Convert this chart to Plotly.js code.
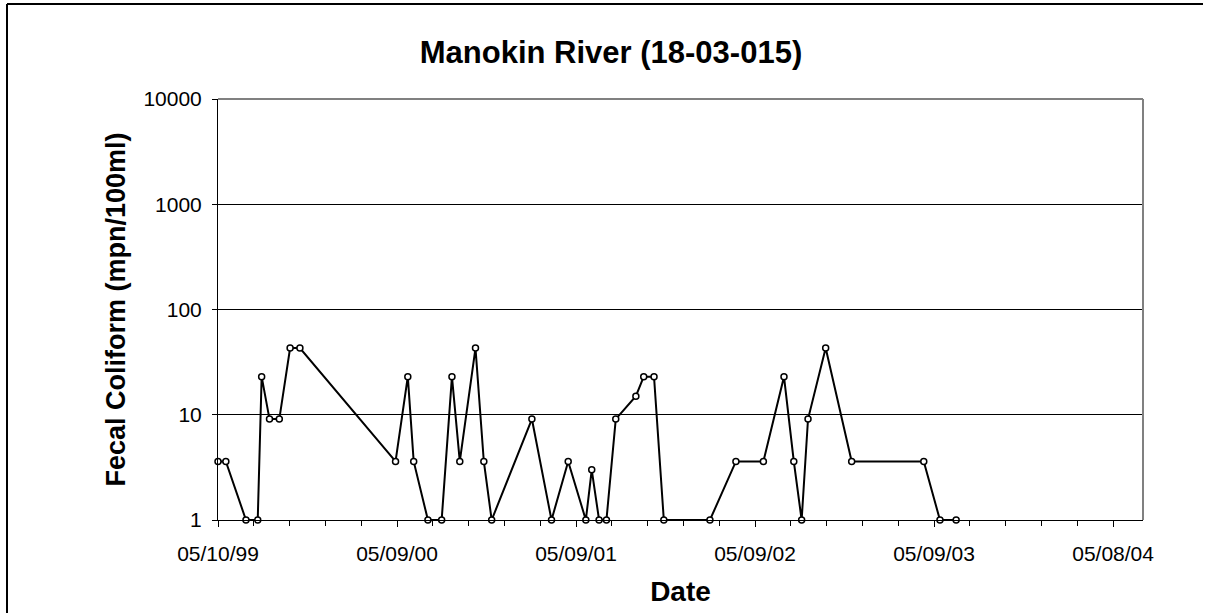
<!DOCTYPE html>
<html>
<head>
<meta charset="utf-8">
<script src="https://cdn.plot.ly/plotly-3.0.1.min.js"></script>
<style>
html,body{margin:0;padding:0;background:#fff;}
#chart{width:1206px;height:613px;}
</style>
</head>
<body>
<div id="chart"></div>
<script>
// Sample dates
const sampleDates = [
  '1999-05-10','1999-05-26','1999-07-06','1999-07-30','1999-08-07','1999-08-23','1999-09-12','1999-10-04','1999-10-24',
  '2000-05-06','2000-05-31','2000-06-12','2000-07-11','2000-08-08','2000-08-29','2000-09-14','2000-10-16','2000-11-02','2000-11-18',
  '2001-02-08','2001-03-20','2001-04-23','2001-05-29','2001-06-10','2001-06-25','2001-07-10','2001-07-29','2001-09-08','2001-09-24','2001-10-15','2001-11-04',
  '2002-02-06','2002-03-31','2002-05-26','2002-07-07','2002-07-27','2002-08-12','2002-08-25','2002-09-30','2002-11-22',
  '2003-04-18','2003-05-21','2003-06-23'
];
// Fecal coliform (mpn/100ml)
const fecalColiform = [
  3.6, 3.6, 1, 1, 23, 9.1, 9.1, 43, 43,
  3.6, 23, 3.6, 1, 1, 23, 3.6, 43, 3.6, 1,
  9.1, 1, 3.6, 1, 3.0, 1, 1, 9.1, 15, 23, 23, 1,
  1, 3.6, 3.6, 23, 3.6, 1, 9.1, 43, 3.6,
  3.6, 1, 1
];
// Axis ticks
const xTickDates = ['1999-05-10','2000-05-09','2001-05-09','2002-05-09','2003-05-09','2004-05-08'];
const xTickLabels = ['05/10/99','05/09/00','05/09/01','05/09/02','05/09/03','05/08/04'];
const xRange = ['1999-05-10','2004-07-08'];
const yTickVals = [1, 10, 100, 1000, 10000];
const yTickLabels = ['1', '10', '100', '1000', '10000'];

const FONT = 'Liberation Sans, Arial, sans-serif';
const DAY = 86400000;

const trace = {
  x: sampleDates,
  y: fecalColiform,
  type: 'scatter',
  mode: 'lines+markers',
  line: {color: '#000', width: 2},
  marker: {symbol: 'circle', size: 6, color: '#fff', line: {color: '#000', width: 1.5}},
  cliponaxis: false,
  hoverinfo: 'skip'
};

// plot area in pixels: l=218, r=1143, t=99, b=520
const L = 218, R = 1143, T = 99, B = 520;
const px = v => (v - L) / (R - L);
const py = v => (B - v) / (B - T);

const layout = {
  width: 1206, height: 613,
  margin: {l: L, r: 1206 - R, t: T, b: 613 - B, pad: 0},
  paper_bgcolor: '#fff', plot_bgcolor: '#fff',
  showlegend: false,
  font: {family: FONT, color: '#000', size: 21},
  title: {
    text: '<b>Manokin River (18-03-015)</b>',
    font: {family: FONT, size: 31, color: '#000'},
    x: 611 / 1206, xanchor: 'center', xref: 'container',
    y: 1 - 52 / 613, yanchor: 'middle', yref: 'container'
  },
  xaxis: {
    type: 'date',
    range: xRange,
    tickmode: 'array',
    tickvals: xTickDates,
    ticktext: xTickLabels,
    ticks: 'outside', ticklen: 6, tickwidth: 1, tickcolor: '#000',
    minor: {dtick: 73 * DAY, tick0: '1999-05-10', ticks: 'outside', ticklen: 5, tickwidth: 1, tickcolor: '#000', showgrid: false},
    ticklabelstandoff: 9,
    tickfont: {family: FONT, size: 21, color: '#000'},
    showgrid: false, zeroline: false,
    showline: true, linecolor: '#000', linewidth: 1,
    title: {text: '<b>Date</b>', font: {family: FONT, size: 28, color: '#000'}, standoff: 17}
  },
  yaxis: {
    type: 'log',
    range: [0, 4],
    tickmode: 'array',
    tickvals: yTickVals,
    ticktext: yTickLabels,
    ticks: 'outside', ticklen: 5, tickwidth: 1, tickcolor: '#000',
    ticklabelstandoff: 6,
    tickfont: {family: FONT, size: 21, color: '#000'},
    showgrid: true, gridcolor: '#000', gridwidth: 1, zeroline: false,
    showline: true, linecolor: '#000', linewidth: 1,
    title: {text: '<b>Fecal Coliform (mpn/100ml)</b>', font: {family: FONT, size: 27, color: '#000'}, standoff: 9}
  },
  shapes: [
    // plot area border top/right (gray)
    {type: 'line', xref: 'paper', yref: 'paper', x0: 0, x1: 1, y0: 1, y1: 1, line: {color: '#808080', width: 2}, layer: 'above'},
    {type: 'line', xref: 'paper', yref: 'paper', x0: 1, x1: 1, y0: 0, y1: 1, line: {color: '#808080', width: 2}, layer: 'above'},
    // outer chart frame
    {type: 'line', xref: 'paper', yref: 'paper', x0: px(7), x1: px(1203), y0: py(4), y1: py(4), line: {color: '#000', width: 2}, layer: 'above'},
    {type: 'line', xref: 'paper', yref: 'paper', x0: px(7), x1: px(7), y0: py(4), y1: py(640), line: {color: '#000', width: 2}, layer: 'above'}
  ]
};

Plotly.newPlot('chart', [trace], layout, {staticPlot: true, displayModeBar: false});
</script>
</body>
</html>
